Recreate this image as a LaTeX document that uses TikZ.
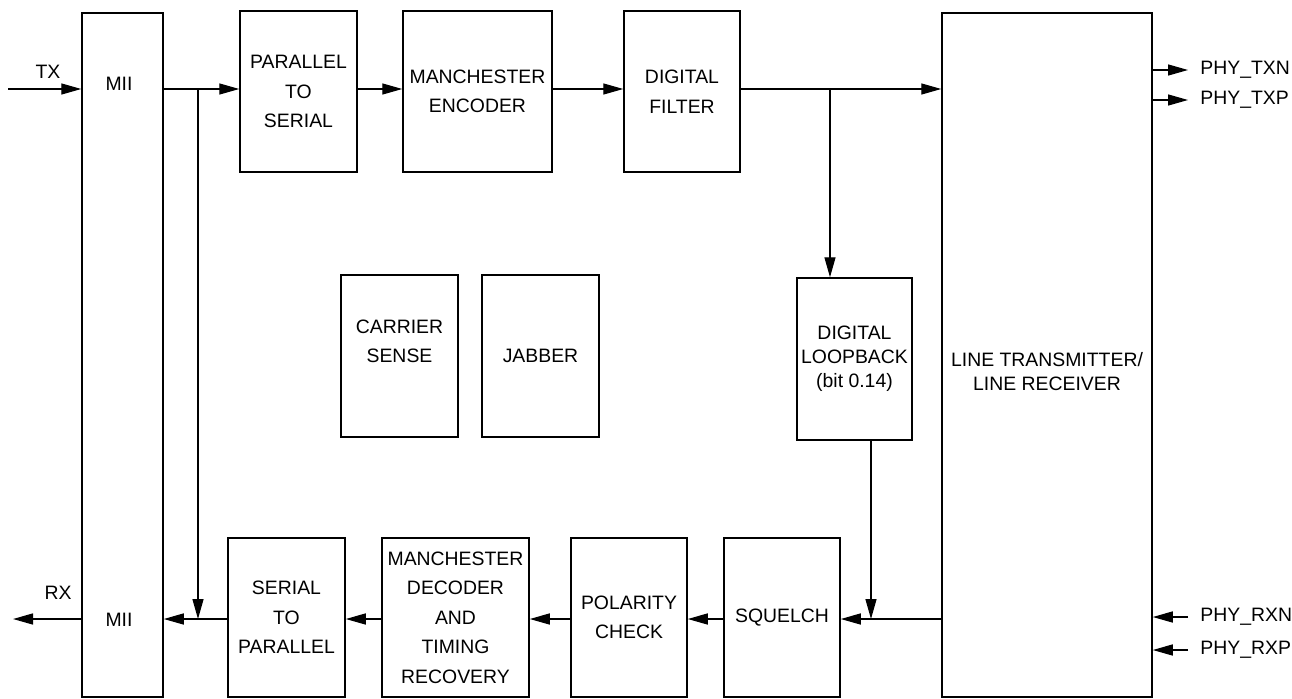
\documentclass[tikz,border=0pt]{standalone}
\usepackage{fontspec}
\setmainfont{Liberation Sans}
\usetikzlibrary{arrows.meta}

\tikzset{
  blk/.style={draw, line width=0.75pt, inner sep=0pt, align=center,
    font=\fontsize{9.7}{14.75}\selectfont},
  sig/.style={line width=0.7pt, -{Triangle[length=10pt,width=5.5pt]}},
  lbl/.style={inner sep=0pt, align=center, font=\fontsize{9.7}{12}\selectfont},
}

\begin{document}
\begin{tikzpicture}[x=0.5pt, y=-0.5pt]
    \useasboundingbox (0,0) rectangle (1292,698);

    % MII and line interface
    \node[blk, minimum width=40.5pt, minimum height=342pt] (mii) at (122.5,355) {};
    \node[lbl] (miitop) at (119,84) {MII};
    \node[lbl] (miibot) at (119,620) {MII};
    \node[blk, minimum width=105pt, minimum height=342pt] (linetx) at (1047,355) {};
    \node[lbl] (linetxt) at (1047,372) {LINE TRANSMITTER/\\LINE RECEIVER};

    % transmit path
    \node[blk, minimum width=58.5pt, minimum height=80.5pt] (p2s) at (298.5,91.5) {PARALLEL\\TO\\SERIAL};
    \node[blk, minimum width=74.5pt, minimum height=80.5pt] (menc) at (477.5,91.5) {MANCHESTER\\ENCODER};
    \node[blk, minimum width=58pt, minimum height=80.5pt] (dfilt) at (682,91.5) {DIGITAL\\FILTER};

    % middle blocks
    \node[blk, minimum width=58.5pt, minimum height=81pt] (csense) at (399.5,356) {CARRIER\\SENSE\\\mbox{}};
    \node[blk, minimum width=58.5pt, minimum height=81pt] (jabber) at (540.5,356) {JABBER};
    \node[blk, minimum width=57.5pt, minimum height=81pt,
      font=\fontsize{9.7}{12}\selectfont] (lpbk) at (854.5,359) {DIGITAL\\LOOPBACK\\(bit 0.14)};

    % receive path
    \node[blk, minimum width=58.5pt, minimum height=79.5pt] (s2p) at (286.5,617.5) {SERIAL\\TO\\PARALLEL};
    \node[blk, minimum width=73.5pt, minimum height=79.5pt] (mdec) at (455.5,617.5) {MANCHESTER\\DECODER\\AND\\TIMING\\RECOVERY};
    \node[blk, minimum width=58pt, minimum height=79.5pt] (pol) at (629,617.5) {POLARITY\\CHECK};
    \node[blk, minimum width=58pt, minimum height=79.5pt] (sq) at (782,617.5) {SQUELCH};

    % junctions and free ends
    \coordinate (txin) at (8,89);
    \coordinate (rxout) at (13,619);
    \coordinate (jtop) at (198,89);
    \coordinate (jmii) at (198,619);
    \coordinate (jlb) at (830,89);
    \coordinate (jsq) at (871,619);
    \coordinate (txn) at (1188,70);
    \coordinate (txp) at (1188,100);
    \coordinate (rxn) at (1188,617);
    \coordinate (rxp) at (1188,650);

    % transmit connectors
    \draw[sig] (txin) -- (txin -| mii.west);
    \draw[sig] (mii.east |- jtop) -- (p2s.west |- jtop);
    \draw[sig] (jtop) -- (jmii);
    \draw[sig] (p2s.east |- jtop) -- (menc.west |- jtop);
    \draw[sig] (menc.east |- jtop) -- (dfilt.west |- jtop);
    \draw[sig] (dfilt.east |- jtop) -- (linetx.west |- jtop);
    \draw[sig] (jlb) -- (jlb |- lpbk.north);
    \draw[sig] (linetx.east |- txn) -- (txn);
    \draw[sig] (linetx.east |- txp) -- (txp);

    % receive connectors
    \draw[sig] (rxn) -- (linetx.east |- rxn);
    \draw[sig] (rxp) -- (linetx.east |- rxp);
    \draw[sig] (linetx.west |- jsq) -- (sq.east |- jsq);
    \draw[sig] (lpbk.south -| jsq) -- (jsq);
    \draw[sig] (sq.west |- jsq) -- (pol.east |- jsq);
    \draw[sig] (pol.west |- jsq) -- (mdec.east |- jsq);
    \draw[sig] (mdec.west |- jsq) -- (s2p.east |- jsq);
    \draw[sig] (s2p.west |- jsq) -- (mii.east |- jsq);
    \draw[sig] (mii.west |- rxout) -- (rxout);

    % signal names
    \node[lbl] (txlbl) at (48,72) {TX};
    \node[lbl] (rxlbl) at (58,593) {RX};
    \node[lbl, anchor=west] (txnlbl) at (1200,70) {PHY\_TXN};
    \node[lbl, anchor=west] (txplbl) at (1200,100) {PHY\_TXP};
    \node[lbl, anchor=west] (rxnlbl) at (1200,617) {PHY\_RXN};
    \node[lbl, anchor=west] (rxplbl) at (1200,650) {PHY\_RXP};
\end{tikzpicture}
\end{document}
